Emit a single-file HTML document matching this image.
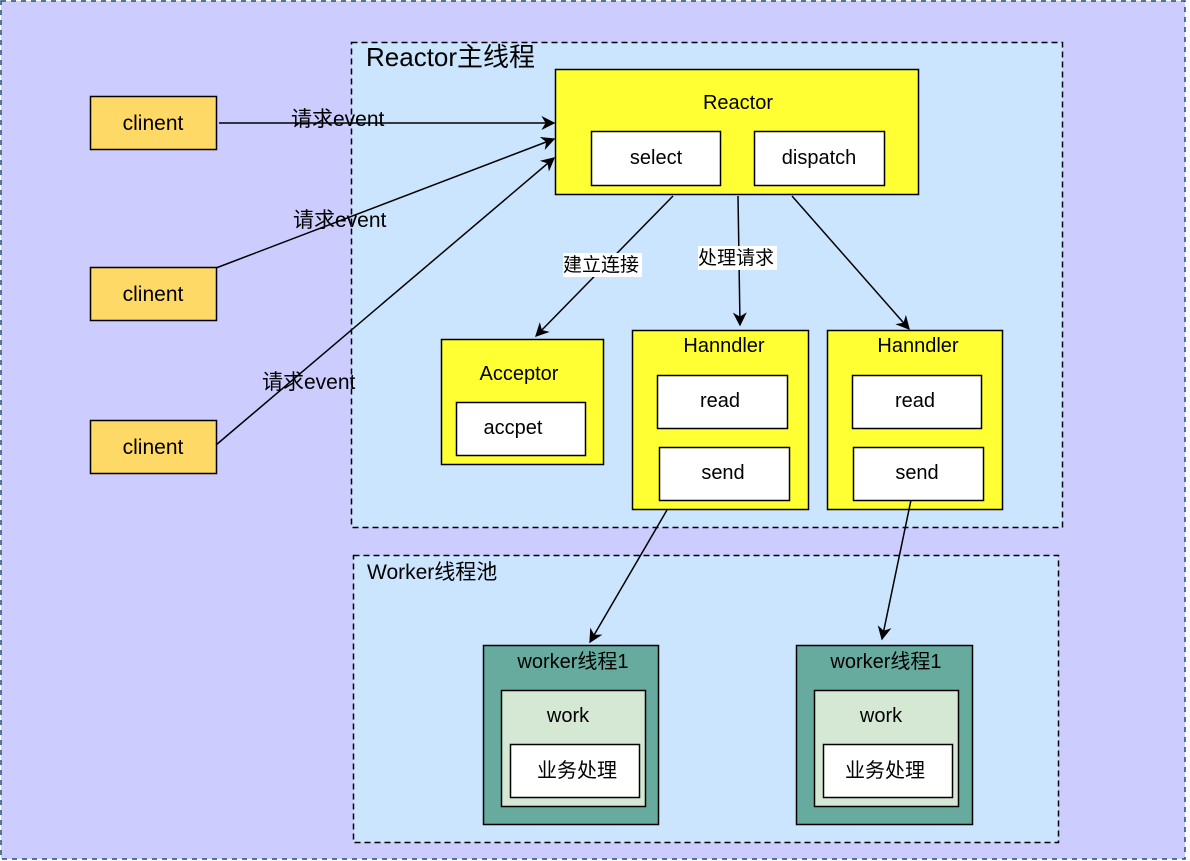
<!DOCTYPE html>
<html><head><meta charset="utf-8"><style>
html,body{margin:0;padding:0;background:#fff;}
svg{display:block;}
text{font-family:"Liberation Sans","Noto Sans CJK SC",sans-serif;fill:#000;}
</style></head><body>
<svg width="1190" height="861" viewBox="0 0 1190 861" xmlns="http://www.w3.org/2000/svg">
<defs>
<marker id="a" viewBox="0 0 10 10" refX="9" refY="5" markerWidth="14" markerHeight="14" markerUnits="userSpaceOnUse" orient="auto"><path d="M0,0 L10,5 L0,10 L3,5 Z" fill="#000"/></marker>
</defs>
<rect x="1" y="1" width="1184" height="858" fill="#ccccff" stroke="#1f4e79" stroke-width="1.5" stroke-dasharray="5,5"/>
<rect x="351.5" y="42.5" width="711" height="485" fill="#cce5ff" stroke="#000" stroke-width="1.5" stroke-dasharray="6,4"/>
<rect x="353.5" y="555.5" width="705" height="287" fill="#cce5ff" stroke="#000" stroke-width="1.5" stroke-dasharray="6,4"/>
<text x="366" y="66" font-size="26">Reactor主线程</text>
<text x="367" y="579" font-size="21">Worker线程池</text>

<g stroke="#000" stroke-width="1.5" fill="#ffd966">
<rect x="90.5" y="96.5" width="126" height="53"/>
<rect x="90.5" y="267.5" width="126" height="53"/>
<rect x="90.5" y="420.5" width="126" height="53"/>
</g>
<g font-size="21" text-anchor="middle">
<text x="153" y="130">clinent</text>
<text x="153" y="301">clinent</text>
<text x="153" y="454">clinent</text>
</g>

<g stroke="#000" stroke-width="1.5" fill="#ffff33">
<rect x="555.5" y="69.5" width="363" height="125"/>
<rect x="441.5" y="339.5" width="162" height="125"/>
<rect x="632.5" y="330.5" width="176" height="179"/>
<rect x="827.5" y="330.5" width="175" height="179"/>
</g>
<g stroke="#000" stroke-width="1.5" fill="#fff">
<rect x="591.5" y="131.5" width="129" height="54"/>
<rect x="754.5" y="131.5" width="130" height="54"/>
<rect x="456.5" y="402.5" width="129" height="53"/>
<rect x="657.5" y="375.5" width="130" height="53"/>
<rect x="659.5" y="447.5" width="130" height="53"/>
<rect x="852.5" y="375.5" width="129" height="53"/>
<rect x="853.5" y="447.5" width="130" height="53"/>
</g>
<g font-size="20" text-anchor="middle">
<text x="738" y="109">Reactor</text>
<text x="656" y="164">select</text>
<text x="819" y="164">dispatch</text>
<text x="519" y="380">Acceptor</text>
<text x="513" y="434">accpet</text>
<text x="724" y="352">Hanndler</text>
<text x="720" y="407">read</text>
<text x="723" y="479">send</text>
<text x="918" y="352">Hanndler</text>
<text x="915" y="407">read</text>
<text x="917" y="479">send</text>
</g>

<g stroke="#000" stroke-width="1.5">
<rect x="483.5" y="645.5" width="175" height="179" fill="#67ab9f"/>
<rect x="501.5" y="690.5" width="144" height="116" fill="#d5e8d4"/>
<rect x="510.5" y="744.5" width="129" height="53" fill="#fff"/>
<rect x="796.5" y="645.5" width="176" height="179" fill="#67ab9f"/>
<rect x="814.5" y="690.5" width="144" height="116" fill="#d5e8d4"/>
<rect x="823.5" y="744.5" width="129" height="53" fill="#fff"/>
</g>
<g font-size="20" text-anchor="middle">
<text x="573" y="668">worker线程1</text>
<text x="568" y="722">work</text>
<text x="577" y="777">业务处理</text>
<text x="886" y="668">worker线程1</text>
<text x="881" y="722">work</text>
<text x="885" y="777">业务处理</text>
</g>

<g stroke="#000" stroke-width="1.5" fill="none" marker-end="url(#a)">
<line x1="219" y1="123" x2="554" y2="123"/>
<line x1="216" y1="268" x2="554" y2="139"/>
<line x1="216" y1="445" x2="554" y2="158"/>
<line x1="673" y1="196" x2="536" y2="336"/>
<line x1="738" y1="196" x2="740" y2="325"/>
<line x1="792" y1="196" x2="909" y2="329"/>
<line x1="667" y1="510" x2="590" y2="642"/>
<line x1="911" y1="500" x2="882" y2="639"/>
</g>
<g font-size="21">
<text x="291" y="126">请求event</text>
<text x="293" y="227">请求event</text>
<text x="262" y="389">请求event</text>
</g>
<rect x="563" y="253" width="79" height="24" fill="#fff"/>
<text x="563" y="271" font-size="19">建立连接</text>
<rect x="698" y="246" width="79" height="24" fill="#fff"/>
<text x="698" y="264" font-size="19">处理请求</text>
</svg>
</body></html>
